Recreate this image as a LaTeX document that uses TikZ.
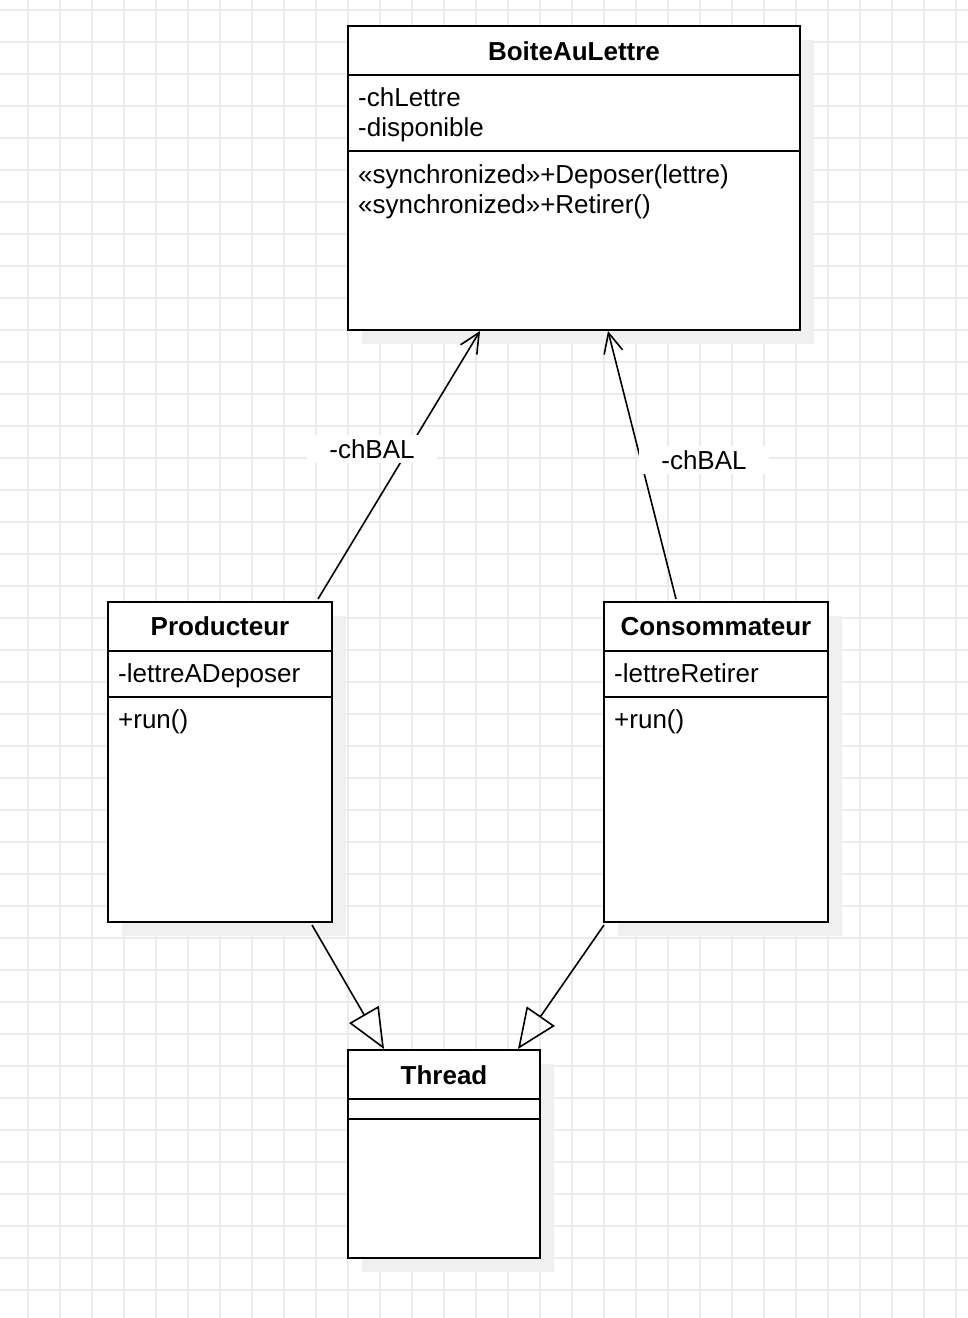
\documentclass[tikz,border=0pt]{standalone}
\usepackage{fontspec}
\setmainfont{Liberation Sans}
\usetikzlibrary{arrows.meta,shadows}
\definecolor{gridgray}{HTML}{EBEBEB}
\definecolor{shadowgray}{HTML}{F0F0F0}
\tikzset{
  gridline/.style={draw=gridgray, line width=1.5pt},
  classbox/.style={draw, line width=2pt, fill=white, rectangle, inner sep=0pt,
    drop shadow={shadow xshift=14pt, shadow yshift=-14pt, fill=shadowgray, opacity=1}},
  divider/.style={line width=2pt},
  classname/.style={anchor=base, inner sep=0pt, font=\fontsize{26}{30}\selectfont\bfseries},
  member/.style={anchor=base west, inner sep=0pt},
  assoc/.style={line width=1.6pt, -{Straight Barb[length=20pt,width=19pt]}},
  inherit/.style={line width=1.6pt, -{Triangle[open,length=40pt,width=34pt]}},
  rolelabel/.style={fill=white, inner xsep=22pt, inner ysep=4pt},
}

\begin{document}
\begin{tikzpicture}[x=1pt, y=-1pt, every node/.style={font=\fontsize{26}{30}\selectfont}]
    \useasboundingbox (0,0) rectangle (968,1318);
    \fill[white] (0,0) rectangle (968,1318);
    % background grid
    \foreach \x in {28,60,...,956} \draw[gridline] (\x,0) -- (\x,1318);
    \foreach \y in {10,42,...,1290} \draw[gridline] (0,\y) -- (968,\y);

    \begin{scope}[every node/.style={classbox}]
        \node (bal) [minimum width=452pt, minimum height=304pt] at (574,178) {};
        \node (prod) [minimum width=224pt, minimum height=320pt] at (220,762) {};
        \node (cons) [minimum width=224pt, minimum height=320pt] at (716,762) {};
        \node (thread) [minimum width=192pt, minimum height=208pt] at (444,1154) {};
    \end{scope}

    \draw[divider] ([yshift=-50pt]bal.north west) -- ([yshift=-50pt]bal.north east);
    \draw[divider] ([yshift=-126pt]bal.north west) -- ([yshift=-126pt]bal.north east);
    \draw[divider] ([yshift=-50pt]prod.north west) -- ([yshift=-50pt]prod.north east);
    \draw[divider] ([yshift=-96pt]prod.north west) -- ([yshift=-96pt]prod.north east);
    \draw[divider] ([yshift=-50pt]cons.north west) -- ([yshift=-50pt]cons.north east);
    \draw[divider] ([yshift=-96pt]cons.north west) -- ([yshift=-96pt]cons.north east);
    \draw[divider] ([yshift=-50pt]thread.north west) -- ([yshift=-50pt]thread.north east);
    \draw[divider] ([yshift=-70pt]thread.north west) -- ([yshift=-70pt]thread.north east);

    \begin{scope}[every node/.append style={member}]
        \node (balName) [classname] at (574,60) {BoiteAuLettre};
        \node (balAttrA) at (358,106) {-chLettre};
        \node (balAttrB) at (358,136) {-disponible};
        \node (balOpA) at (358,183) {«synchronized»+Deposer(lettre)};
        \node (balOpB) at (358,213) {«synchronized»+Retirer()};

        \node (prodName) [classname] at (220,635) {Producteur};
        \node (prodAttr) at (118,682) {-lettreADeposer};
        \node (prodOp) at (118,728) {+run()};

        \node (consName) [classname] at (716,635) {Consommateur};
        \node (consAttr) at (614,682) {-lettreRetirer};
        \node (consOp) at (614,728) {+run()};

        \node (threadName) [classname] at (444,1084) {Thread};
    \end{scope}

    % associations and inheritance
    \draw[assoc] ([xshift=98pt,yshift=2pt]prod.north) -- ([xshift=-94pt]bal.south);
    \draw[assoc] ([xshift=-40pt,yshift=2pt]cons.north) -- ([xshift=34pt]bal.south);
    \draw[inherit] ([xshift=92pt,yshift=-2pt]prod.south) -- ([xshift=-60pt]thread.north);
    \draw[inherit] ([xshift=-112pt,yshift=-2pt]cons.south) -- ([xshift=74pt]thread.north);

    \node (roleProd) [rolelabel] at (372,449) {-chBAL};
    \node (roleCons) [rolelabel] at (704,460) {-chBAL};
\end{tikzpicture}
\end{document}
